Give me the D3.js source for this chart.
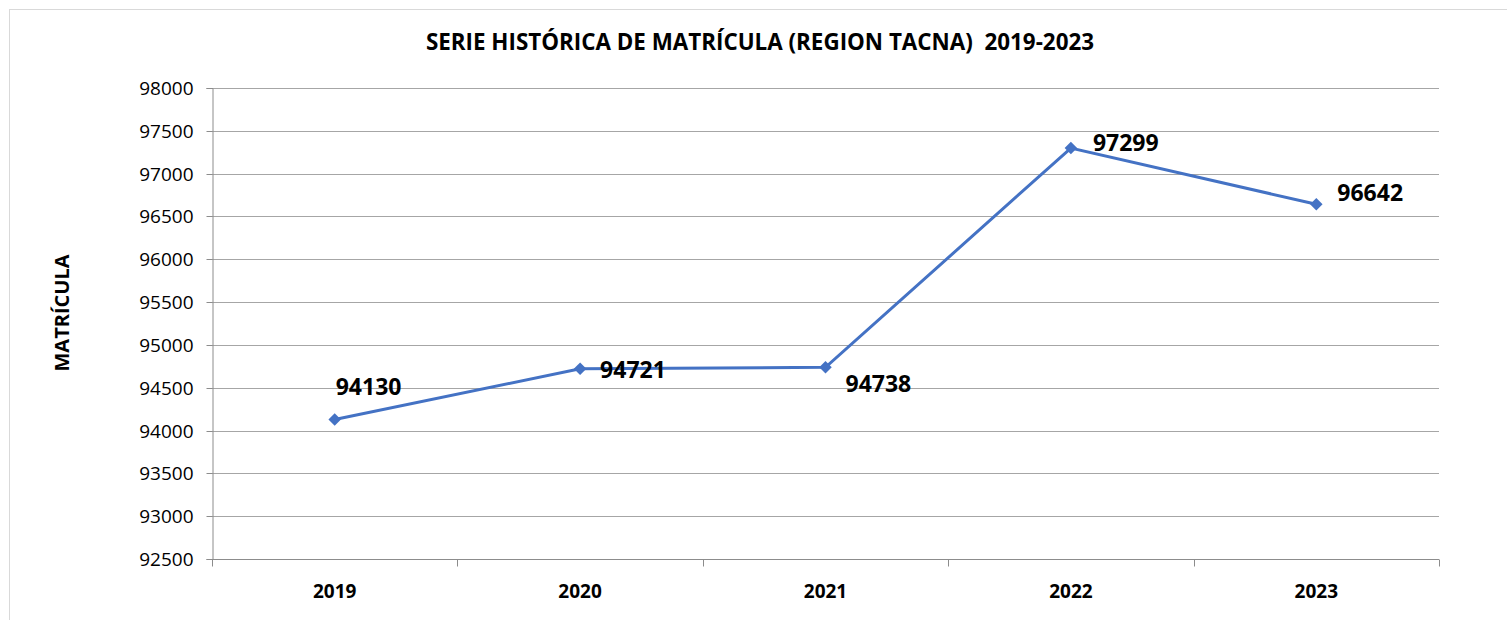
<!DOCTYPE html>
<html>
<head>
<meta charset="utf-8">
<script src="https://cdn.jsdelivr.net/npm/d3@7"></script>
<style>
  body { margin: 0; background: #fff; }
  svg { display: block; font-family: "Open Sans", Lato, sans-serif; }
</style>
</head>
<body>
<div id="container"></div>
<script>
// chart data
const years = ['2019', '2020', '2021', '2022', '2023'];
const matricula = [94130, 94721, 94738, 97299, 96642];
const yTicks = [92500, 93000, 93500, 94000, 94500, 95000, 95500, 96000, 96500, 97000, 97500, 98000];

const chartTitle = 'SERIE HISTÓRICA DE MATRÍCULA (REGION TACNA)  2019-2023';
const yAxisTitle = 'MATRÍCULA';

const width = 1507;
const height = 620;
const margin = {top: 88, right: 68, bottom: 61, left: 212};

const svg = d3.select('#container')
  .append('svg')
  .attr('width', width)
  .attr('height', height);

// outer chart border
svg.append('rect')
  .attr('x', 9.5)
  .attr('y', 9.5)
  .attr('width', width + 20)
  .attr('height', height + 20)
  .style('fill', 'none')
  .style('stroke', '#d9d9d9');

const xScale = d3.scaleBand()
  .domain(years)
  .range([margin.left, width - margin.right]);

const yScale = d3.scaleLinear()
  .domain([92500, 98000])
  .range([height - margin.bottom, margin.top]);

//gridlines
svg.append('g')
  .selectAll('line')
  .data(yTicks.slice(1))
  .enter()
  .append('line')
  .attr('x1', margin.left)
  .attr('x2', width - margin.right)
  .attr('y1', d => Math.round(yScale(d)) + 0.5)
  .attr('y2', d => Math.round(yScale(d)) + 0.5)
  .style('stroke', '#a6a6a6')
  .style('stroke-width', 1);

//y axis
const yAxis = svg.append('g')
  .attr('transform', `translate(${margin.left + 0.5}, 0)`)
  .call(d3.axisLeft(yScale).tickValues(yTicks).tickSize(6).tickPadding(13).tickFormat(d3.format('d')));

yAxis.selectAll('line, path').style('stroke', '#8c8c8c');
yAxis.selectAll('text')
  .style('font-size', '19px')
  .style('font-family', '"Open Sans", sans-serif')
  .style('fill', '#000');
yAxis.selectAll('.tick')
  .attr('transform', d => `translate(0, ${Math.round(yScale(d)) + 0.5})`);

//x axis
const xAxisG = svg.append('g')
  .attr('transform', `translate(0, ${Math.round(yScale(92500)) + 0.5})`);

xAxisG.append('line')
  .attr('x1', margin.left)
  .attr('x2', width - margin.right)
  .style('stroke', '#8c8c8c');

const bounds = years.map(d => xScale(d)).concat([width - margin.right]);
xAxisG.selectAll('.xtick')
  .data(bounds)
  .enter()
  .append('line')
  .attr('class', 'xtick')
  .attr('x1', d => Math.round(d) + 0.5)
  .attr('x2', d => Math.round(d) + 0.5)
  .attr('y1', 0)
  .attr('y2', 7)
  .style('stroke', '#8c8c8c');

xAxisG.selectAll('.xlabel')
  .data(years)
  .enter()
  .append('text')
  .attr('class', 'xlabel')
  .attr('x', d => xScale(d) + xScale.bandwidth() / 2)
  .attr('y', 38)
  .attr('text-anchor', 'middle')
  .style('font-size', '19px')
  .style('font-weight', 'bold')
  .text(d => d);

//title
svg.append('text')
  .attr('x', 760)
  .attr('y', 50)
  .attr('text-anchor', 'middle')
  .style('font-size', '22.4px')
  .style('font-weight', 'bold')
  .style('white-space', 'pre')
  .text(chartTitle);

//y axis title
svg.append('text')
  .attr('transform', `translate(69, 313) rotate(-90)`)
  .attr('text-anchor', 'middle')
  .style('font-size', '20px')
  .style('font-weight', 'bold')
  .text(yAxisTitle);

const points = years.map((y, i) => ({year: y, value: matricula[i]}));

const line = d3.line()
  .x(d => xScale(d.year) + xScale.bandwidth() / 2)
  .y(d => yScale(d.value));

svg.append('path')
  .datum(points)
  .attr('d', line)
  .style('fill', 'none')
  .style('stroke', '#4472c4')
  .style('stroke-width', 3);

svg.selectAll('.dot')
  .data(points)
  .enter()
  .append('path')
  .attr('class', 'dot')
  .attr('d', d3.symbol().type(d3.symbolDiamond2).size(100))
  .attr('transform', d => `translate(${xScale(d.year) + xScale.bandwidth() / 2}, ${yScale(d.value)})`)
  .style('fill', '#4472c4');

// label offsets from each point (manually placed in original)
const labelOffset = [[1, -24], [20, 9], [20, 25], [22, 3], [21, -3]];

svg.selectAll('.data_label')
  .data(points)
  .enter()
  .append('text')
  .attr('class', 'data_label')
  .attr('x', (d, i) => xScale(d.year) + xScale.bandwidth() / 2 + labelOffset[i][0])
  .attr('y', (d, i) => yScale(d.value) + labelOffset[i][1])
  .style('font-size', '23px')
  .style('font-weight', 'bold')
  .text(d => d.value);
</script>
</body>
</html>
